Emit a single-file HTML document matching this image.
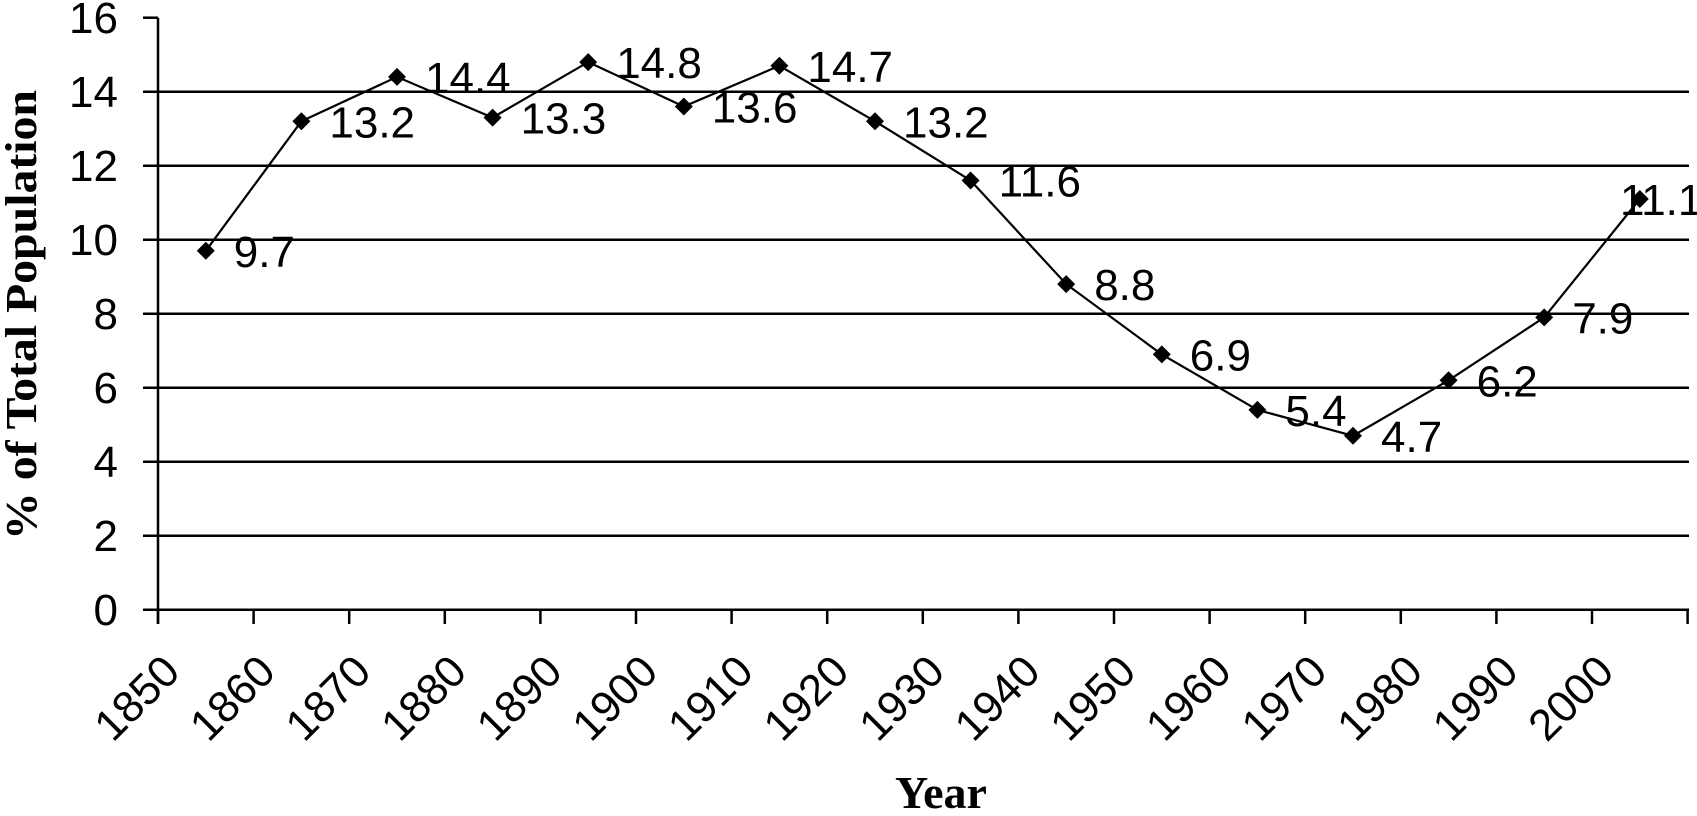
<!DOCTYPE html>
<html><head><style>html,body{margin:0;padding:0;background:#fff}</style></head>
<body>
<svg width="1697" height="811" viewBox="0 0 1697 811" xmlns="http://www.w3.org/2000/svg">
<g stroke="#000" stroke-width="2.5" fill="none">
<line x1="143" y1="91.7" x2="1689" y2="91.7"/>
<line x1="143" y1="165.7" x2="1689" y2="165.7"/>
<line x1="143" y1="239.7" x2="1689" y2="239.7"/>
<line x1="143" y1="313.7" x2="1689" y2="313.7"/>
<line x1="143" y1="387.7" x2="1689" y2="387.7"/>
<line x1="143" y1="461.7" x2="1689" y2="461.7"/>
<line x1="143" y1="535.7" x2="1689" y2="535.7"/>
<line x1="143" y1="609.7" x2="1689" y2="609.7"/>
<line x1="143" y1="17.7" x2="158" y2="17.7"/>
<line x1="158" y1="17.7" x2="158" y2="624"/>
</g>
<g stroke="#000" stroke-width="2.5" id="xt"></g>
<g font-family="Liberation Sans, sans-serif" font-size="44" text-anchor="end" fill="#000">
<text x="118" y="33">16</text>
<text x="118" y="107">14</text>
<text x="118" y="181">12</text>
<text x="118" y="255">10</text>
<text x="118" y="329">8</text>
<text x="118" y="403">6</text>
<text x="118" y="477">4</text>
<text x="118" y="551">2</text>
<text x="118" y="625">0</text>
</g>
<g id="xl" font-family="Liberation Sans, sans-serif" font-size="44" text-anchor="end" fill="#000"></g>
<polyline id="ln" fill="none" stroke="#000" stroke-width="2.2"/>
<g id="mk" fill="#000"></g>
<g id="dl" font-family="Liberation Sans, sans-serif" font-size="44" fill="#000"></g>
<text x="941" y="808" font-family="Liberation Serif, serif" font-weight="bold" font-size="46" text-anchor="middle">Year</text>
<text transform="translate(36,315) rotate(-90)" font-family="Liberation Serif, serif" font-weight="bold" font-size="44" text-anchor="middle" textLength="450" lengthAdjust="spacingAndGlyphs">% of Total Population</text>
<script>
var ns="http://www.w3.org/2000/svg";
var vals=[9.7,13.2,14.4,13.3,14.8,13.6,14.7,13.2,11.6,8.8,6.9,5.4,4.7,6.2,7.9,11.1];
var W=95.6,x0=158,y0=609.7,u=37;
var xt=document.getElementById('xt'),xl=document.getElementById('xl'),mk=document.getElementById('mk'),dl=document.getElementById('dl');
for(var k=0;k<=16;k++){var x=x0+k*W;var l=document.createElementNS(ns,'line');l.setAttribute('x1',x);l.setAttribute('x2',x);l.setAttribute('y1',609.7);l.setAttribute('y2',624);xt.appendChild(l);}
var pts=[];
for(var i=0;i<16;i++){
 var tx=x0+i*W+24, ty=674;
 var t=document.createElementNS(ns,'text');t.setAttribute('transform','translate('+tx+','+ty+') rotate(-45)');t.textContent=1850+i*10;xl.appendChild(t);
 var cx=x0+(i+0.5)*W, cy=y0-vals[i]*u;pts.push(cx+','+cy);
 var p=document.createElementNS(ns,'polygon');p.setAttribute('points',cx+','+(cy-9)+' '+(cx+9)+','+cy+' '+cx+','+(cy+9)+' '+(cx-9)+','+cy);mk.appendChild(p);
 var d=document.createElementNS(ns,'text');d.setAttribute('x',i==15?1620:cx+28);d.setAttribute('y',cy+16);d.textContent=vals[i].toFixed(1);dl.appendChild(d);
}
document.getElementById('ln').setAttribute('points',pts.join(' '));
</script>
</svg>
</body></html>
